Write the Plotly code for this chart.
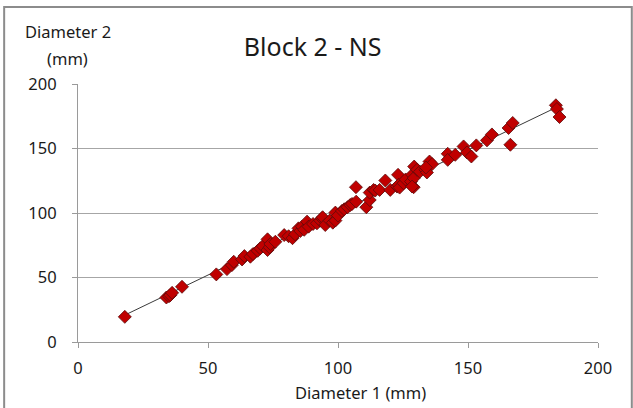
import numpy as np
import plotly.graph_objects as go

# Diameter 1 (mm)
d1 = [18, 34, 35, 35.5, 36.2, 40, 53.2, 57.3, 59.2, 59.9, 63.1, 64, 66.3, 67.3,
      69.1, 70.1, 71.1, 72.9, 73.7, 72.9, 74, 75.9, 79.3, 81, 82.5, 83.5, 84.8,
      85.5, 86.2, 87, 88.1, 88.7, 90.4, 91.9, 93.2, 93.8, 94.1, 95.1, 96.8, 98,
      99, 99, 100, 101.5, 102.4, 103.7, 104.7, 105.4, 107, 106.9, 110.9, 112.2,
      112.2, 113.7, 114.3, 116, 118.2, 120.1, 122.7, 123.1, 123.3, 123.7, 125.2,
      126, 128.1, 128.5, 129.1, 129.1, 128.5, 129.3, 130.4, 131.5, 133.6, 134.2,
      135.2, 136.2, 133.8, 142.2, 142.2, 145.1, 148.3, 149.6, 151.3, 153.2,
      157.3, 159.2, 165.6, 167.2, 166.3, 183.8, 184.2, 185.2]
# Diameter 2 (mm)
d2 = [19.5, 34.5, 35.5, 36.3, 38.1, 42.8, 52.4, 56.5, 59.6, 62.2, 64, 66.6, 66.1,
      68.2, 70.7, 72.6, 74.4, 71.3, 73.4, 79.6, 76, 77.7, 82.9, 82, 80.5, 83.5,
      88.1, 86, 89.4, 87, 93.3, 89.4, 91.5, 92, 94.1, 95.9, 96.7, 90.7, 94.1,
      92.5, 94.1, 100.3, 98, 101.6, 102.9, 104.5, 106.2, 107, 108.8, 120, 104.5,
      110.1, 115.8, 117.9, 117.4, 117.9, 125.2, 117.9, 120.5, 129.6, 121.8,
      119.7, 123.1, 126, 124.4, 129.6, 120, 127, 120.5, 136, 133.5, 132, 133.5,
      131.4, 139.9, 137.9, 135.3, 145.9, 141.2, 145.1, 151.6, 146.9, 143.8,
      152.4, 156.3, 160.9, 165.9, 169.8, 152.9, 183.5, 180.6, 174.4]

x_ticks = [0, 50, 100, 150, 200]
y_ticks = [0, 50, 100, 150, 200]

FONT = "Noto Sans"
TXT = "#1a1a1a"

# linear trendline fitted to the data
slope, intercept = np.polyfit(d1, d2, 1)
tx = np.array([min(d1), max(d1)])
ty = slope * tx + intercept

fig = go.Figure()
fig.add_trace(go.Scatter(x=tx, y=ty, mode="lines",
                         line=dict(color="#3a3a3a", width=1), hoverinfo="skip"))
fig.add_trace(go.Scatter(x=d1, y=d2, mode="markers",
                         marker=dict(symbol="diamond", size=10, color="#c00000",
                                     line=dict(color="#5a0a0a", width=0.8))))

fig.update_layout(
    width=633, height=408,
    margin=dict(l=78, r=35, t=84, b=66),
    paper_bgcolor="white", plot_bgcolor="white",
    showlegend=False,
    font=dict(family=FONT, color=TXT, size=16),
    title=dict(text="Block 2 - NS", x=0.494, xanchor="center", y=0.885,
               yanchor="middle", font=dict(family=FONT, size=25, color=TXT)),
    xaxis=dict(range=[0, 200], tickvals=x_ticks, showgrid=False,
               showline=True, linecolor="#9a9a9a", linewidth=1,
               ticks="outside", ticklen=5, tickcolor="#9a9a9a",
               tickfont=dict(size=16.5, color=TXT), zeroline=False,
               ticklabelstandoff=6),
    yaxis=dict(range=[0, 200], tickvals=y_ticks, showgrid=True,
               gridcolor="#a6a6a6", gridwidth=1,
               showline=True, linecolor="#9a9a9a", linewidth=1,
               ticks="outside", ticklen=5, tickcolor="#9a9a9a",
               tickfont=dict(size=16.5, color=TXT), zeroline=False,
               ticklabelstandoff=12),
    annotations=[
        dict(text="Diameter 2", xref="paper", yref="paper",
             x=-0.019, y=1.205, xanchor="center", yanchor="middle",
             showarrow=False, font=dict(family=FONT, size=16.5, color=TXT)),
        dict(text="(mm)", xref="paper", yref="paper",
             x=-0.02, y=1.10, xanchor="center", yanchor="middle",
             showarrow=False, font=dict(family=FONT, size=16.5, color=TXT)),
        dict(text="Diameter 1 (mm)", xref="paper", yref="paper",
             x=0.544, y=-0.196, xanchor="center", yanchor="middle",
             showarrow=False, font=dict(family=FONT, size=16.5, color=TXT)),
    ],
    shapes=[dict(type="rect", xref="paper", yref="paper",
                 x0=-0.142, x1=1.065, y0=-0.4, y1=1.298,
                 line=dict(color="#8c8c8c", width=2), layer="below")],
)

fig.write_html("out.html")
